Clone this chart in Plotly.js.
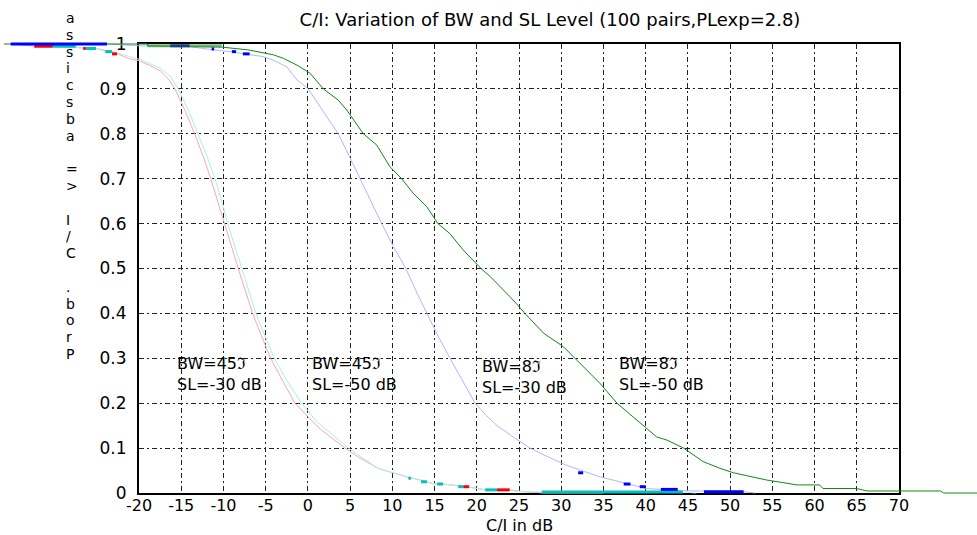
<!DOCTYPE html>
<html>
<head>
<meta charset="utf-8">
<script src="https://cdn.plot.ly/plotly-3.0.1.min.js"></script>
<style>html,body{margin:0;padding:0;background:#fff;}#chart{width:977px;height:535px;}</style>
</head>
<body>
<div id="chart"></div>
<script>
// ---- data ----
const xTicks = [-20, -15, -10, -5, 0, 5, 10, 15, 20, 25, 30, 35, 40, 45, 50, 55, 60, 65, 70];
const xTickText = ['-20', '-15', '-10', '-5', '0', '5', '10', '15', '20', '25', '30', '35', '40', '45', '50', '55', '60', '65', '70'];
const yTicks = [0, 0.1, 0.2, 0.3, 0.4, 0.5, 0.6, 0.7, 0.8, 0.9, 1];
const yTickText = ['0', '0.1', '0.2', '0.3', '0.4', '0.5', '0.6', '0.7', '0.8', '0.9', '1'];

// BW=45, SL=-30 dB (light red)
const bw45sl30X = [-35, -32.4, -30.2, -27.5, -26.3, -25.1, -23.2, -22.6, -21.1, -20, -18.7, -17.5, -16.5, -15.74, -14.5, -13.4, -12.4, -11.5, -10.7, -9.93, -9.1, -8.24, -7.4, -6.54, -5.5, -4.4, -3.0, -1.53, 0, 1.5, 3.0, 4.4, 6.0, 8.3, 9.7, 11.7, 13.3, 14.8, 16.0, 18.8, 21.0, 23.9, 25.5, 28, 35];
const bw45sl30Y = [1.0, 0.995, 0.995, 0.993, 0.99, 0.99, 0.983, 0.978, 0.967, 0.963, 0.952, 0.940, 0.922, 0.900, 0.850, 0.800, 0.750, 0.700, 0.650, 0.600, 0.550, 0.500, 0.450, 0.400, 0.350, 0.300, 0.250, 0.200, 0.170, 0.142, 0.120, 0.100, 0.080, 0.055, 0.047, 0.036, 0.029, 0.021, 0.020, 0.014, 0.007, 0.007, 0.003, 0.0, 0.0];

// BW=45, SL=-50 dB (light cyan)
const bw45sl50X = [-35, -30.2, -27.5, -25.1, -24, -23.2, -21.1, -20, -18.7, -17.5, -16.3, -15.35, -14.1, -13.0, -11.95, -11.0, -10.2, -9.5, -8.65, -7.84, -7.0, -6.15, -5.1, -3.98, -2.5, -0.74, 1.0, 2.9, 4.8, 6.5, 8.3, 9.7, 11.7, 13.3, 14.8, 16.0, 18.8, 21.0, 22.4, 25.5, 28, 44.4, 46];
const bw45sl50Y = [1.0, 0.995, 0.993, 0.99, 0.983, 0.983, 0.972, 0.966, 0.956, 0.946, 0.928, 0.900, 0.850, 0.800, 0.750, 0.700, 0.650, 0.600, 0.550, 0.500, 0.450, 0.400, 0.350, 0.300, 0.250, 0.200, 0.160, 0.130, 0.100, 0.078, 0.055, 0.047, 0.036, 0.029, 0.021, 0.020, 0.014, 0.007, 0.007, 0.003, 0.002, 0.002, 0.0];

// BW=8, SL=-30 dB (lavender)
const bw8sl30X = [-35, -23.8, -20, -14, -11.2, -9.2, -6.85, -5.3, -4.1, -2.5, -1.3, 0.05, 1.8, 3.6, 4.9, 6.17, 7.4, 8.74, 10.1, 11.6, 12.8, 14.07, 15.4, 16.83, 18.3, 19.8, 21.0, 22.4, 24.3, 26.3, 28.5, 30.6, 32.4, 34.6, 37.75, 40.1, 44.4, 51.5, 53];
const bw8sl30Y = [1.0, 1.0, 0.996, 0.994, 0.987, 0.983, 0.976, 0.972, 0.964, 0.949, 0.920, 0.900, 0.850, 0.800, 0.750, 0.700, 0.650, 0.600, 0.550, 0.500, 0.450, 0.400, 0.350, 0.300, 0.250, 0.200, 0.175, 0.150, 0.125, 0.100, 0.080, 0.062, 0.050, 0.036, 0.021, 0.010, 0.005, 0.003, 0.0];

// BW=8, SL=-50 dB (green)
const bw8sl50X = [-36, -19, -19, -10.2, -7.1, -5.3, -4.1, -2.9, -1.3, 0.25, 1.83, 3.6, 4.6, 6.57, 8.15, 9.7, 11.1, 12.5, 14.06, 15.4, 16.8, 18.4, 20.5, 21.6, 24.3, 25.7, 27.9, 30.25, 31.6, 34.6, 36.6, 38.5, 41.3, 42.5, 44.5, 46.8, 48.8, 50.4, 52.4, 54.3, 56.3, 57.9, 60.6, 61.0, 65.0, 66.2, 74.9, 75.3, 80];
const bw8sl50Y = [1.0, 1.0, 0.996, 0.993, 0.987, 0.98, 0.976, 0.968, 0.953, 0.935, 0.900, 0.875, 0.853, 0.800, 0.775, 0.727, 0.700, 0.667, 0.638, 0.600, 0.578, 0.541, 0.500, 0.482, 0.430, 0.400, 0.356, 0.326, 0.300, 0.244, 0.200, 0.170, 0.125, 0.118, 0.100, 0.070, 0.055, 0.045, 0.036, 0.029, 0.023, 0.018, 0.018, 0.010, 0.010, 0.0045, 0.0045, 0.0, 0.0];

// thick rendered pieces of the curves (start x, end x, level)
const blueStartX = [-35.2, -11.4, -9.0, -7.7, 32.0, 37.4, 39.3, 41.8, 46.9];
const blueEndX   = [-23.8, -11.1, -8.5, -6.9, 32.6, 38.2, 40.0, 43.8, 51.6];
const blueLevel  = [1.0, 0.989, 0.983, 0.978, 0.045, 0.020, 0.014, 0.008, 0.003];
const navyStartX = [-16.3];
const navyEndX   = [-14.0];
const navyLevel  = [0.996];
const redStartX  = [-32.4, -26.6, -23.2, 18.4, 22.4];
const redEndX    = [-30.2, -26.3, -22.6, 19.1, 23.9];
const redLevel   = [0.995, 0.99, 0.978, 0.014, 0.007];
const cyanStartX = [-30.2, -26.3, -24.0, 11.9, 13.4, 15.3, 17.8, 21.0, 27.7];
const cyanEndX   = [-27.5, -25.1, -23.2, 12.2, 14.1, 16.0, 18.4, 22.4, 44.4];
const cyanLevel  = [0.995, 0.99, 0.983, 0.033, 0.025, 0.020, 0.014, 0.007, 0.0025];
const greenStartX = [-19];
const greenEndX   = [-10.2];
const greenLevel  = [0.996];

const labels = [
  {x: -15.7, y: 0.265, bw: '45', sl: '-30'},
  {x: 0.25,  y: 0.265, bw: '45', sl: '-50'},
  {x: 20.4,  y: 0.258, bw: '8',  sl: '-30'},
  {x: 36.6,  y: 0.265, bw: '8',  sl: '-50'}
];
const yTitleText = 'Prob. C/I >= abscissa';

// ---- geometry ----
const W = 977, H = 535;
const L = 139, R = 899, T = 44, B = 493;
const xMin = -20, xMax = 70, yMin = 0, yMax = 1;
const pxPerX = (R - L) / (xMax - xMin);
const pxPerY = (B - T) / (yMax - yMin);
const fullXRange = [xMin - L / pxPerX, xMax + (W - R) / pxPerX];
const fullYRange = [yMin - (H - B) / pxPerY, yMax + T / pxPerY];

function segs(x0, x1, lv) {
  const xs = [], ys = [];
  for (let i = 0; i < x0.length; i++) { xs.push(x0[i], x1[i], null); ys.push(lv[i], lv[i], null); }
  return {x: xs, y: ys};
}
const FONT = 'DejaVu Sans, Liberation Sans, Arial, sans-serif';
const SYM = '<span style="font-family:DejaVu Serif">\u2111</span>';

function curve(x, y, color) {
  return {type: 'scatter', mode: 'lines', x: x, y: y, xaxis: 'x2', yaxis: 'y2',
          line: {color: color, width: 1}, hoverinfo: 'skip', showlegend: false};
}
function bars(s, color, width, opacity) {
  return {type: 'scatter', mode: 'lines', x: s.x, y: s.y, xaxis: 'x2', yaxis: 'y2',
          line: {color: color, width: width}, opacity: opacity || 1, connectgaps: false,
          hoverinfo: 'skip', showlegend: false};
}

const traces = [
  {type: 'scatter', mode: 'lines', x: [xMin, xMax], y: [yMin, yMax], xaxis: 'x', yaxis: 'y',
   line: {width: 0, color: 'rgba(0,0,0,0)'}, hoverinfo: 'skip', showlegend: false},
  curve(bw8sl30X, bw8sl30Y, '#b4b4ff'),
  curve(bw8sl50X, bw8sl50Y, '#118a11'),
  curve(bw45sl30X, bw45sl30Y, '#ffa6a6'),
  curve(bw45sl50X, bw45sl50Y, '#a6f0f0'),
  bars(segs(greenStartX, greenEndX, greenLevel), '#3f9a3f', 3, 0.7),
  bars(segs(redStartX, redEndX, redLevel), '#ff0000', 3),
  bars(segs(cyanStartX, cyanEndX, cyanLevel), '#00c0c0', 3),
  bars(segs(blueStartX, blueEndX, blueLevel), '#0000ff', 3),
  bars(segs(navyStartX, navyEndX, navyLevel), '#1c3c8c', 3)
];

const annotations = labels.map(a => ({
  x: a.x, y: a.y, xref: 'x', yref: 'y',
  text: 'BW=' + a.bw + SYM + '<br>SL=' + a.sl + ' dB', showarrow: false,
  xanchor: 'left', yanchor: 'middle', align: 'left',
  font: {family: FONT, size: 16, color: '#000'}
}));
// vertical (stacked) y-axis title, characters reversed as in the reference
const yChars = yTitleText.split('').reverse();
yChars.forEach((c, i) => {
  if (c === ' ') return;
  annotations.push({
    x: 64 / W, y: 1 - (18 + i * 16.8) / H, xref: 'paper', yref: 'paper',
    text: c, showarrow: false, xanchor: 'left', yanchor: 'middle',
    font: {family: FONT, size: 14, color: '#000'}
  });
});
// x-axis title
annotations.push({
  x: (L + R) / 2 / W, y: 1 - 525 / H, xref: 'paper', yref: 'paper',
  text: 'C/I in dB', showarrow: false, xanchor: 'center', yanchor: 'middle',
  font: {family: FONT, size: 16, color: '#000'}
});

const layout = {
  width: W, height: H,
  margin: {l: 0, r: 0, t: 0, b: 0},
  paper_bgcolor: '#ffffff', plot_bgcolor: 'rgba(0,0,0,0)',
  showlegend: false,
  title: {text: 'C/I: Variation of BW and SL Level (100 pairs,PLexp=2.8)',
          x: 550 / W, xanchor: 'center', y: 1 - 20 / H, yanchor: 'middle',
          font: {family: FONT, size: 18, color: '#000'}},
  xaxis: {domain: [L / W, R / W], range: [xMin, xMax], anchor: 'y',
          tickmode: 'array', tickvals: xTicks, ticktext: xTickText, ticks: '',
          showgrid: true, gridcolor: '#222', gridwidth: 1, griddash: '5px,3px,2px,3px',
          zeroline: false, showline: true, mirror: true, linecolor: '#000', linewidth: 2,
          ticklabelstandoff: -3,
          tickfont: {family: FONT, size: 16, color: '#000'}},
  yaxis: {domain: [(H - B) / H, (H - T) / H], range: [yMin, yMax], anchor: 'x',
          tickmode: 'array', tickvals: yTicks, ticktext: yTickText, ticks: '',
          showgrid: true, gridcolor: '#222', gridwidth: 1, griddash: '5px,3px,2px,3px',
          zeroline: false, showline: true, mirror: true, linecolor: '#000', linewidth: 2,
          ticklabelstandoff: 7,
          tickfont: {family: FONT, size: 17, color: '#000'}},
  xaxis2: {domain: [0, 1], range: fullXRange, anchor: 'y2', visible: false, showgrid: false, zeroline: false},
  yaxis2: {domain: [0, 1], range: fullYRange, anchor: 'x2', visible: false, showgrid: false, zeroline: false},
  annotations: annotations
};

Plotly.newPlot('chart', traces, layout, {displayModeBar: false, staticPlot: true});
</script>
</body>
</html>
